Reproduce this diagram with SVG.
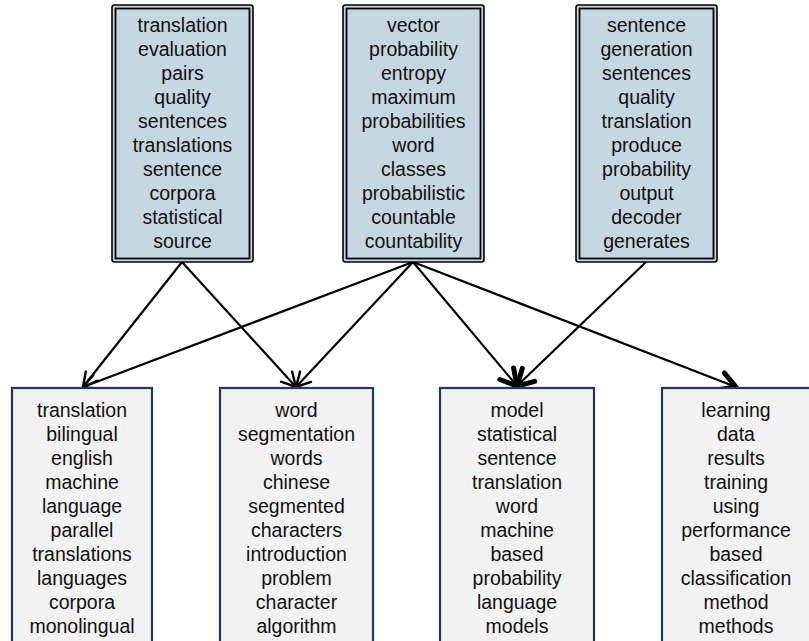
<svg xmlns="http://www.w3.org/2000/svg" width="809" height="641" viewBox="0 0 809 641">
  <style>
    text { font-family: "Liberation Sans", Arial, Helvetica, sans-serif; font-size: 19.5px; fill: #111; text-anchor: middle; }
    .topouter { fill: #c6d7e1; stroke: #000; stroke-width: 1.6; }
    .topinner { fill: none; stroke: #000; stroke-width: 1.8; }
    .bottom { fill: #f2f2f2; stroke: #1d3a5c; stroke-width: 2.2; }
    .edge { fill: none; stroke: #000; stroke-width: 2.2; }
    .thin { marker-end: url(#headThin); }
    .bold { marker-end: url(#headBold); }
  </style>
  <defs>
    <marker id="headThin" markerUnits="userSpaceOnUse" viewBox="-18 -11 22 22" refX="0" refY="0" markerWidth="22" markerHeight="22" orient="auto">
      <path d="M-14,-7.5 L0,0 L-14,7.5" fill="none" stroke="#000" stroke-width="2.4" stroke-linecap="round" stroke-linejoin="round"/>
    </marker>
    <marker id="headBold" markerUnits="userSpaceOnUse" viewBox="-22 -14 26 28" refX="0" refY="0" markerWidth="26" markerHeight="28" orient="auto">
      <path d="M-16,-9 L0,0 L-16,9" fill="none" stroke="#000" stroke-width="5" stroke-linecap="round" stroke-linejoin="round"/>
    </marker>
  </defs>

  <!-- connectors -->
  <g id="edges">
    <line class="edge thin" x1="182" y1="262" x2="83" y2="387"/>
    <line class="edge thin" x1="182" y1="262" x2="296" y2="387"/>
    <line class="edge thin" x1="413" y1="262" x2="83" y2="387"/>
    <line class="edge thin" x1="413" y1="262" x2="296" y2="387"/>
    <line class="edge bold" x1="413" y1="262" x2="517" y2="386"/>
    <line class="edge bold" x1="413" y1="262" x2="736" y2="387"/>
    <line class="edge bold" x1="646" y1="262" x2="517" y2="386"/>
  </g>

  <!-- upper topic nodes -->
  <g id="topic-translation-evaluation">
    <rect class="topouter" x="112" y="5" width="141" height="257" rx="2.5"/>
    <rect class="topinner" x="115.5" y="8.5" width="134" height="250"/>
    <text x="182.5" y="32">translation</text>
    <text x="182.5" y="56">evaluation</text>
    <text x="182.5" y="80">pairs</text>
    <text x="182.5" y="104">quality</text>
    <text x="182.5" y="128">sentences</text>
    <text x="182.5" y="152">translations</text>
    <text x="182.5" y="176">sentence</text>
    <text x="182.5" y="200">corpora</text>
    <text x="182.5" y="224">statistical</text>
    <text x="182.5" y="248">source</text>
  </g>

  <g id="topic-vector-probability">
    <rect class="topouter" x="343" y="5" width="141" height="257" rx="2.5"/>
    <rect class="topinner" x="346.5" y="8.5" width="134" height="250"/>
    <text x="413.5" y="32">vector</text>
    <text x="413.5" y="56">probability</text>
    <text x="413.5" y="80">entropy</text>
    <text x="413.5" y="104">maximum</text>
    <text x="413.5" y="128">probabilities</text>
    <text x="413.5" y="152">word</text>
    <text x="413.5" y="176">classes</text>
    <text x="413.5" y="200">probabilistic</text>
    <text x="413.5" y="224">countable</text>
    <text x="413.5" y="248">countability</text>
  </g>

  <g id="topic-sentence-generation">
    <rect class="topouter" x="576" y="5" width="141" height="257" rx="2.5"/>
    <rect class="topinner" x="579.5" y="8.5" width="134" height="250"/>
    <text x="646.5" y="32">sentence</text>
    <text x="646.5" y="56">generation</text>
    <text x="646.5" y="80">sentences</text>
    <text x="646.5" y="104">quality</text>
    <text x="646.5" y="128">translation</text>
    <text x="646.5" y="152">produce</text>
    <text x="646.5" y="176">probability</text>
    <text x="646.5" y="200">output</text>
    <text x="646.5" y="224">decoder</text>
    <text x="646.5" y="248">generates</text>
  </g>

  <!-- lower topic nodes -->
  <g id="topic-translation-bilingual">
    <rect class="bottom" x="12" y="388" width="140" height="262"/>
    <text x="82" y="417">translation</text>
    <text x="82" y="441">bilingual</text>
    <text x="82" y="465">english</text>
    <text x="82" y="489">machine</text>
    <text x="82" y="513">language</text>
    <text x="82" y="537">parallel</text>
    <text x="82" y="561">translations</text>
    <text x="82" y="585">languages</text>
    <text x="82" y="609">corpora</text>
    <text x="82" y="633">monolingual</text>
  </g>

  <g id="topic-word-segmentation">
    <rect class="bottom" x="220" y="388" width="153" height="262"/>
    <text x="296.5" y="417">word</text>
    <text x="296.5" y="441">segmentation</text>
    <text x="296.5" y="465">words</text>
    <text x="296.5" y="489">chinese</text>
    <text x="296.5" y="513">segmented</text>
    <text x="296.5" y="537">characters</text>
    <text x="296.5" y="561">introduction</text>
    <text x="296.5" y="585">problem</text>
    <text x="296.5" y="609">character</text>
    <text x="296.5" y="633">algorithm</text>
  </g>

  <g id="topic-model-statistical">
    <rect class="bottom" x="440" y="388" width="154" height="262"/>
    <text x="517" y="417">model</text>
    <text x="517" y="441">statistical</text>
    <text x="517" y="465">sentence</text>
    <text x="517" y="489">translation</text>
    <text x="517" y="513">word</text>
    <text x="517" y="537">machine</text>
    <text x="517" y="561">based</text>
    <text x="517" y="585">probability</text>
    <text x="517" y="609">language</text>
    <text x="517" y="633">models</text>
  </g>

  <g id="topic-learning-data">
    <rect class="bottom" x="662" y="388" width="154" height="262"/>
    <text x="736" y="417">learning</text>
    <text x="736" y="441">data</text>
    <text x="736" y="465">results</text>
    <text x="736" y="489">training</text>
    <text x="736" y="513">using</text>
    <text x="736" y="537">performance</text>
    <text x="736" y="561">based</text>
    <text x="736" y="585">classification</text>
    <text x="736" y="609">method</text>
    <text x="736" y="633">methods</text>
  </g>
</svg>
